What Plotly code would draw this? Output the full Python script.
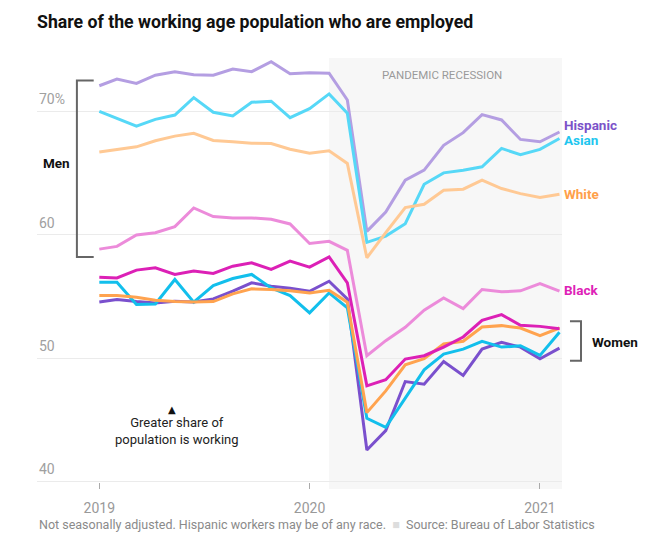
import plotly.graph_objects as go
import pandas as pd

months = pd.date_range("2019-02-01", "2021-02-01", freq="MS")

hispanic_men = [72.07, 72.61, 72.26, 72.93, 73.21, 72.96, 72.93, 73.42, 73.21, 74.02, 73.04, 73.13,
                73.09, 70.92, 60.27, 61.84, 64.42, 65.23, 67.24, 68.27, 69.73, 69.30, 67.72, 67.53, 68.32]
asian_men = [70.00, 69.43, 68.80, 69.35, 69.70, 71.11, 69.92, 69.62, 70.73, 70.82, 69.48, 70.22,
             71.41, 69.84, 59.38, 59.89, 60.89, 64.09, 65.01, 65.23, 65.50, 66.99, 66.48, 66.91, 67.80]
white_men = [66.71, 66.93, 67.12, 67.61, 67.99, 68.21, 67.64, 67.53, 67.42, 67.39, 66.93, 66.60,
             66.80, 65.77, 58.13, 60.16, 62.20, 62.47, 63.60, 63.69, 64.42, 63.74, 63.33, 63.01, 63.28]
black_men = [58.83, 59.05, 59.97, 60.16, 60.65, 62.17, 61.47, 61.36, 61.36, 61.25, 60.87, 59.29,
             59.46, 58.73, 50.19, 51.41, 52.49, 53.88, 54.88, 54.01, 55.56, 55.37, 55.45, 56.04, 55.42]

hispanic_women = [54.55, 54.74, 54.58, 54.47, 54.61, 54.55, 54.80, 55.42, 56.10, 55.83, 55.66, 55.42,
                  56.23, 54.80, 42.55, 44.12, 48.10, 47.89, 49.73, 48.59, 50.73, 51.27, 50.89, 49.95, 50.81]
asian_women = [56.15, 56.15, 54.34, 54.39, 56.37, 54.53, 55.88, 56.45, 56.78, 55.69, 55.07, 53.66,
               55.28, 54.07, 45.12, 44.39, 46.75, 49.05, 50.33, 50.73, 51.36, 50.89, 51.00, 50.22, 52.09]
white_women = [55.07, 55.07, 54.93, 54.69, 54.58, 54.55, 54.58, 55.20, 55.61, 55.56, 55.45, 55.28,
               55.50, 54.53, 45.58, 47.34, 49.46, 49.95, 51.14, 51.36, 52.52, 52.63, 52.44, 51.82, 52.44]
black_women = [56.56, 56.50, 57.13, 57.32, 56.78, 57.05, 56.86, 57.45, 57.72, 57.18, 57.86, 57.37,
               58.20, 56.10, 47.75, 48.24, 49.92, 50.19, 50.89, 51.71, 53.06, 53.52, 52.66, 52.57, 52.38]

groups = ["Hispanic", "Asian", "White", "Black"]
label_values = [68.9, 67.7, 63.3, 55.5]
men_colors = ["#b49ee2", "#56d8f7", "#ffc994", "#ec8bda"]
women_colors = ["#7a50cd", "#12bfec", "#ffa34f", "#dc20b6"]
label_colors = ["#7b52c9", "#1ec6ef", "#ffa04a", "#de22b7"]

y_ticks = [40, 50, 60, 70]
y_tick_text = ["40", "50", "60", "70%"]
x_ticks = ["2019-02-01", "2020-01-01", "2021-01-01"]
x_tick_text = ["2019", "2020", "2021"]

FONT = "Roboto, Arial, sans-serif"
W, H = 642, 536

fig = go.Figure()
men = [hispanic_men, asian_men, white_men, black_men]
women = [hispanic_women, asian_women, white_women, black_women]
for g, vals, c in zip(groups, men, men_colors):
    fig.add_trace(go.Scatter(x=months, y=vals, mode="lines", name=g + " men",
                             line=dict(color=c, width=3), hoverinfo="skip"))
for g, vals, c in zip(groups, women, women_colors):
    fig.add_trace(go.Scatter(x=months, y=vals, mode="lines", name=g + " women",
                             line=dict(color=c, width=3), hoverinfo="skip"))

shapes = [
    dict(type="rect", xref="x", yref="paper", x0="2020-02-01", x1="2021-02-05", y0=0, y1=1,
         fillcolor="#f7f7f7", line=dict(width=0), layer="below"),
    # Men bracket
    dict(type="path", xref="paper", yref="y",
         path="M 0.108,72.5 L 0.076,72.5 L 0.076,58.2 L 0.108,58.2",
         line=dict(color="#666666", width=2)),
    # Women bracket
    dict(type="path", xref="paper", yref="y",
         path="M 1.0152,52.98 L 1.0362,52.98 L 1.0362,49.78 L 1.0152,49.78",
         line=dict(color="#666666", width=2)),
]

annotations = []
for t, v in zip(y_tick_text, y_ticks):
    annotations.append(dict(xref="paper", x=0, yref="y", y=v, text=t, showarrow=False,
                            xanchor="left", yanchor="bottom", yshift=2,
                            font=dict(family="Roboto, Arial", size=14, color="#a0a0a0")))
for g, v, c in zip(groups, label_values, label_colors):
    annotations.append(dict(xref="x", x=months[-1], yref="y", y=v, text="<b>" + g + "</b>",
                            showarrow=False, xanchor="left", yanchor="middle", xshift=3,
                            font=dict(family=FONT, size=13.5, color=c)))
annotations += [
    dict(xref="paper", x=0.038, yref="y", y=65.8, text="<b>Men</b>", showarrow=False,
         xanchor="center", yanchor="middle", font=dict(family=FONT, size=13.5, color="#111111")),
    dict(xref="paper", x=1.053, yref="y", y=51.3, text="<b>Women</b>", showarrow=False,
         xanchor="left", yanchor="middle", font=dict(family=FONT, size=13.5, color="#111111")),
    dict(xref="paper", x=0.772, yref="paper", y=0.96, text="PANDEMIC RECESSION", showarrow=False,
         xanchor="center", yanchor="middle", font=dict(family="Roboto, Arial", size=11.5, color="#9a9a9a")),
    dict(xref="paper", x=0.2566, yref="y", y=45.8, text="▲", showarrow=False,
         xanchor="center", yanchor="middle", font=dict(family="DejaVu Sans", size=10, color="#111111")),
    dict(xref="paper", x=0.266, yref="y", y=44.07, text="Greater share of<br>population is working",
         showarrow=False, xanchor="center", yanchor="middle",
         font=dict(family="Roboto, Arial", size=13, color="#222222")),
    dict(xref="paper", x=0, yref="paper", y=-0.0835,
         text="Not seasonally adjusted. Hispanic workers may be of any race.  <span style='color:#dddddd'>■</span>  Source: Bureau of Labor Statistics",
         showarrow=False, xanchor="left", yanchor="middle",
         font=dict(family=FONT, size=12.5, color="#8a8a8a")),
]

fig.update_layout(
    width=W, height=H,
    margin=dict(l=29, r=88, t=50, b=55),
    paper_bgcolor="white", plot_bgcolor="white",
    showlegend=False,
    title=dict(text="<b>Share of the working age population who are employed</b>",
               x=29 / W, xanchor="left", xref="container",
               y=1 - 14 / H, yanchor="middle", yref="container",
               font=dict(family=FONT, size=17.7, color="#111111")),
    shapes=shapes,
    annotations=annotations,
    xaxis=dict(type="date", range=["2018-10-25", "2021-02-05"], showgrid=False, zeroline=False,
               tickvals=x_ticks, ticktext=x_tick_text, ticks="inside", ticklen=6,
               tickcolor="#aaaaaa", tickwidth=1, showline=False, ticklabelstandoff=9,
               tickfont=dict(family="Roboto, Arial", size=14, color="#999999")),
    yaxis=dict(range=[39.39, 74.32], tickvals=y_ticks, showticklabels=False, showgrid=True,
               gridcolor="#ebebeb", gridwidth=1, zeroline=False, showline=False),
)

fig.write_html("out.html")
